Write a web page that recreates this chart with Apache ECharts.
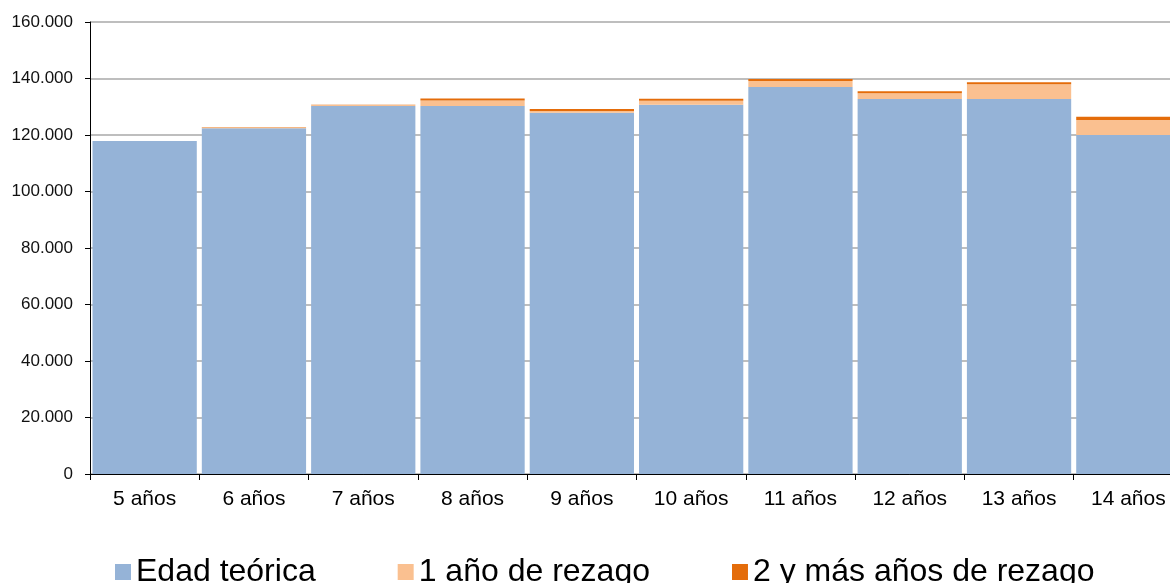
<!DOCTYPE html>
<html>
<head>
<meta charset="utf-8">
<script src="https://cdn.jsdelivr.net/npm/echarts@6/dist/echarts.min.js"></script>
<style>
  html, body { margin: 0; padding: 0; background: #fff; overflow: hidden; }
  /* el gráfico original sale recortado por la derecha */
  #chart { width: 1183px; height: 583px; }
</style>
</head>
<body>
<div id="chart"></div>
<script>
// datos
var categorias = ['5 años', '6 años', '7 años', '8 años', '9 años', '10 años', '11 años', '12 años', '13 años', '14 años'];
var edadTeorica = [117900, 122400, 130300, 130300, 127900, 130700, 137000, 132700, 132700, 120000];
var rezago1 = [0, 350, 350, 1900, 600, 1400, 2100, 2100, 5300, 5300];
var rezago2 = [0, 50, 50, 700, 700, 700, 700, 700, 700, 1200];
var nombres = ['Edad teórica', '1 año de rezago', '2 y más años de rezago'];
var colores = ['#95B3D7', '#FAC090', '#E46C0A'];

var fuente = 'Arial, "Liberation Sans", sans-serif';

const myChart = echarts.init(document.getElementById('chart'));

function serie(nombre, datos, color){
	return {
		name: nombre,
		type: 'bar',
		stack: 'total',
		data: datos,
		barCategoryGap: '4.6%',
		itemStyle: { color: color },
		emphasis: { disabled: true }
	};
}

var option = {
	animation: false,
	color: colores,
	grid: { left: 90, right: 0, top: 22, bottom: 109, containLabel: false },
	legend: {
		left: 110,
		top: 551,
		itemWidth: 16,
		itemHeight: 16,
		itemGap: 82,
		icon: 'rect',
		textStyle: { fontFamily: fuente, fontSize: 32, color: '#000' },
		data: nombres
	},
	xAxis: {
		type: 'category',
		data: categorias,
		axisLine: { lineStyle: { color: '#000', width: 1 } },
		axisTick: { show: true, length: 6, lineStyle: { color: '#000' } },
		axisLabel: { fontFamily: fuente, fontSize: 21, color: '#000', margin: 15 }
	},
	yAxis: {
		type: 'value',
		min: 0,
		max: 160000,
		interval: 20000,
		axisLine: { show: true, lineStyle: { color: '#000', width: 1 } },
		axisTick: { show: true, length: 5, lineStyle: { color: '#000' } },
		splitLine: { lineStyle: { color: '#a8a8a8', width: 1.5 } },
		axisLabel: {
			fontFamily: fuente, fontSize: 17, color: '#111', margin: 17,
			formatter: function(v){ return String(v).replace(/\B(?=(\d{3})+(?!\d))/g, '.'); }
		}
	},
	series: [
		serie(nombres[0], edadTeorica, colores[0]),
		serie(nombres[1], rezago1, colores[1]),
		serie(nombres[2], rezago2, colores[2])
	]
};
myChart.setOption(option);
</script>
</body>
</html>
